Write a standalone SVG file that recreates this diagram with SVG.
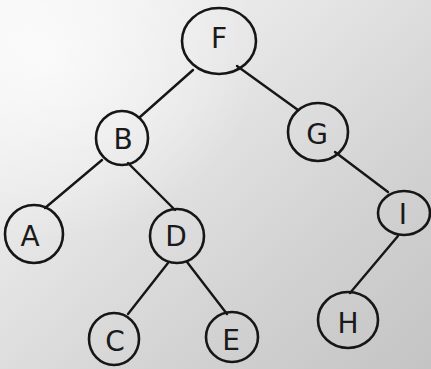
<svg xmlns="http://www.w3.org/2000/svg" width="431" height="369" viewBox="0 0 431 369">
  <defs>
    <linearGradient id="paper" x1="0" y1="0" x2="1" y2="1">
      <stop offset="0" stop-color="#f4f4f4"/>
      <stop offset="0.35" stop-color="#e6e6e6"/>
      <stop offset="0.7" stop-color="#d2d2d2"/>
      <stop offset="1" stop-color="#c4c4c4"/>
    </linearGradient>
    <radialGradient id="glare" cx="0.1" cy="0.15" r="0.5">
      <stop offset="0" stop-color="#ffffff" stop-opacity="0.7"/>
      <stop offset="1" stop-color="#ffffff" stop-opacity="0"/>
    </radialGradient>
    <style>
      .node ellipse { fill: none; stroke: #161616; stroke-width: 2.6; }
      .node text { font-family: "DejaVu Sans", sans-serif; font-size: 28px; fill: #1a1a1a; text-anchor: middle; dominant-baseline: central; }
      #edges line { stroke: #161616; stroke-width: 2.4; stroke-linecap: round; }
    </style>
  </defs>

  <!-- paper background -->
  <rect width="431" height="369" fill="url(#paper)"/>
  <rect width="431" height="369" fill="url(#glare)"/>

  <!-- tree edges -->
  <g id="edges">
    <line x1="193" y1="70" x2="140" y2="117"/>
    <line x1="237" y1="66" x2="298" y2="110"/>
    <line x1="102" y1="160" x2="45" y2="208"/>
    <line x1="128" y1="163" x2="175" y2="210"/>
    <line x1="335" y1="152" x2="388" y2="192"/>
    <line x1="398" y1="236" x2="350" y2="293"/>
    <line x1="168" y1="263" x2="128" y2="314"/>
    <line x1="187" y1="262" x2="227" y2="314"/>
  </g>

  <!-- tree nodes -->
  <g id="node-F" class="node">
    <ellipse cx="219" cy="41" rx="37" ry="33"/>
    <text x="219" y="38">F</text>
  </g>
  <g id="node-B" class="node">
    <ellipse cx="122" cy="138" rx="26" ry="27"/>
    <text x="123" y="139">B</text>
  </g>
  <g id="node-G" class="node">
    <ellipse cx="318" cy="132" rx="30" ry="29"/>
    <text x="317" y="134">G</text>
  </g>
  <g id="node-A" class="node">
    <ellipse cx="34" cy="234" rx="29" ry="29"/>
    <text x="30" y="236">A</text>
  </g>
  <g id="node-D" class="node">
    <ellipse cx="177" cy="236" rx="27" ry="27"/>
    <text x="176" y="236">D</text>
  </g>
  <g id="node-I" class="node">
    <ellipse cx="404" cy="213" rx="26" ry="22"/>
    <text x="403" y="214">I</text>
  </g>
  <g id="node-C" class="node">
    <ellipse cx="114" cy="339" rx="25" ry="26"/>
    <text x="115" y="341">C</text>
  </g>
  <g id="node-E" class="node">
    <ellipse cx="232" cy="337" rx="26" ry="25"/>
    <text x="231" y="340">E</text>
  </g>
  <g id="node-H" class="node">
    <ellipse cx="348" cy="320" rx="30" ry="28"/>
    <text x="348" y="323">H</text>
  </g>
</svg>
